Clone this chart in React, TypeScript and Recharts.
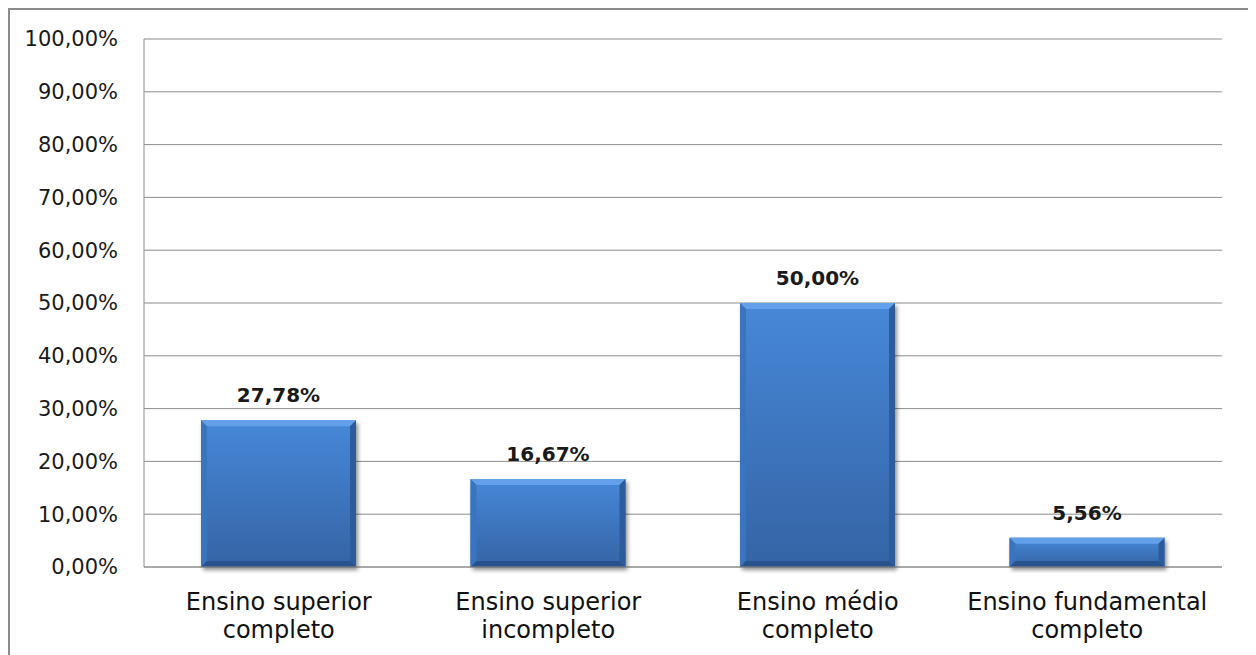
import React from 'react';
import { BarChart, Bar, XAxis, YAxis, CartesianGrid, LabelList } from 'recharts';

// Escolaridade dos respondentes (%)
const categories = [
  'Ensino superior completo',
  'Ensino superior incompleto',
  'Ensino médio completo',
  'Ensino fundamental completo',
];
const shares = [27.78, 16.67, 50.0, 5.56];
const yTicks = [0, 10, 20, 30, 40, 50, 60, 70, 80, 90, 100];

const data = categories.map((name, i) => ({ name, value: shares[i] }));

const FONT = '"DejaVu Sans", sans-serif';
const GRID = '#8c8c8c';

const pct = (v: number) => v.toFixed(2).replace('.', ',') + '%';

// Two-line category label: the last word goes on the second line
const CategoryTick = (props: any) => {
  const { x, y, payload } = props;
  const text: string = payload.value;
  const cut = text.lastIndexOf(' ');
  const l1 = text.slice(0, cut);
  const l2 = text.slice(cut + 1);
  return (
    <text x={x} textAnchor="middle" fontFamily={FONT} fontSize={24} fill="#111">
      <tspan x={x} y={y + 43}>{l1}</tspan>
      <tspan x={x} y={y + 71}>{l2}</tspan>
    </text>
  );
};

// Bevelled bar with a vertical gradient face and a soft drop shadow
const BevelBar = (props: any) => {
  const { x, y, width: w, height: h } = props;
  if (!h || h <= 0) return null;
  const b = Math.min(6, h / 3);
  return (
    <g>
      <rect x={x} y={y} width={w} height={h} fill="#000" opacity={0.45} filter="url(#barShadow)" />
      <rect x={x} y={y} width={w} height={h} fill="url(#barFace)" />
      <polygon points={`${x},${y} ${x + w},${y} ${x + w - b},${y + b} ${x + b},${y + b}`} fill="#64a0ea" />
      <polygon points={`${x},${y} ${x + b},${y + b} ${x + b},${y + h - b} ${x},${y + h}`} fill="#3a74bf" />
      <polygon points={`${x + w},${y} ${x + w},${y + h} ${x + w - b},${y + h - b} ${x + w - b},${y + b}`} fill="#2c5c9c" />
      <polygon points={`${x},${y + h} ${x + b},${y + h - b} ${x + w - b},${y + h - b} ${x + w},${y + h}`} fill="#28528c" />
    </g>
  );
};

const ValueLabel = (props: any) => {
  const { x, y, width, value } = props;
  return (
    <text
      x={x + width / 2}
      y={y - 18}
      textAnchor="middle"
      fontFamily={FONT}
      fontWeight="bold"
      fontSize={20}
      fill="#1a1a1a"
    >
      {pct(value)}
    </text>
  );
};

export default function App() {
  return (
    <div
      style={{
        width: 1239,
        height: 645,
        border: `2px solid ${GRID}`,
        borderBottom: 'none',
        background: '#fff',
        overflow: 'hidden',
      }}
    >
      <BarChart
        width={1239}
        height={645}
        data={data}
        margin={{ top: 29, right: 27, left: 0, bottom: 0 }}
        barSize={155}
      >
        <defs>
          <linearGradient id="barFace" x1="0" y1="0" x2="0" y2="1">
            <stop offset="0%" stopColor="#4788d8" />
            <stop offset="100%" stopColor="#3464a5" />
          </linearGradient>
          <filter id="barShadow" x="-10%" y="-10%" width="130%" height="130%">
            <feOffset dx="2" dy="3" />
            <feGaussianBlur stdDeviation="2" />
          </filter>
        </defs>
        <CartesianGrid vertical={false} stroke={GRID} strokeWidth={1} />
        <XAxis
          dataKey="name"
          axisLine={{ stroke: GRID }}
          tickLine={false}
          tickSize={0}
          tickMargin={0}
          height={88}
          interval={0}
          tick={<CategoryTick />}
        />
        <YAxis
          domain={[0, 100]}
          ticks={yTicks}
          width={134}
          axisLine={{ stroke: GRID }}
          tickLine={false}
          tickSize={0}
          tickMargin={26}
          tickFormatter={pct}
          tick={{ fontFamily: FONT, fontSize: 21, fill: '#1a1a1a' }}
        />
        <Bar dataKey="value" shape={<BevelBar />} isAnimationActive={false}>
          <LabelList dataKey="value" content={<ValueLabel />} />
        </Bar>
      </BarChart>
    </div>
  );
}
